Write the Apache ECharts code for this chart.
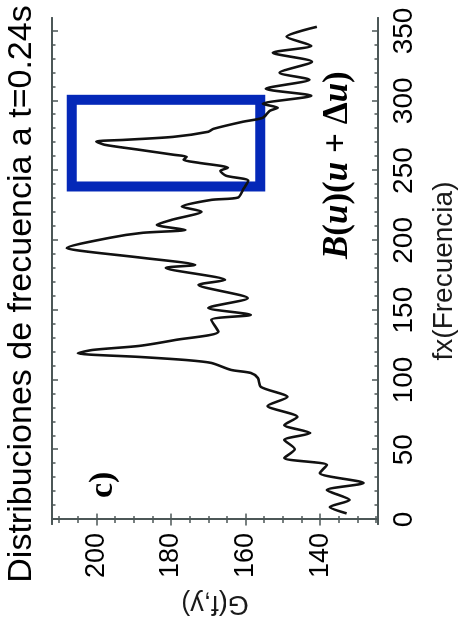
<!DOCTYPE html>
<html>
<head>
<meta charset="utf-8">
<script src="https://cdn.jsdelivr.net/npm/echarts@6/dist/echarts.min.js"></script>
<style>
  html, body { margin: 0; padding: 0; background: #fff; overflow: hidden; }
  /* the whole figure is turned a quarter turn counter-clockwise */
  #chart {
    position: absolute; left: 0; top: 0;
    width: 627px; height: 463px;
    transform-origin: 0 0;
    transform: translate(0, 627px) rotate(-90deg);
  }
</style>
</head>
<body>
<div id="chart"></div>
<script>
// frecuencia (eje x)
const freq = [4.4, 9.0, 14.0, 21.1, 26.2, 33.3, 39.1, 44.1, 50.5, 57.0, 62.0,
  67.7, 73.5, 81.4, 87.8, 95.0, 101.4, 105.0, 107.2, 112.2, 114.3,
  116.5, 119.1, 121.5, 124.4, 128.7, 134.6, 143.0, 146.6, 151.6, 158.6,
  168.1, 171.7, 180.3, 182.4, 187.5, 192.0, 194.4, 201.8, 205.4, 207.5,
  211.1, 214.7, 220.6, 224.2, 229.0, 230.7, 236.2, 242.7, 246.3, 249.8,
  252.0, 255.6, 257.7, 259.9, 261.3, 264.9, 268.5, 270.8, 272.0, 274.2,
  277.8, 279.9, 285.0, 287.8, 292.8, 295.0, 297.8, 303.6, 308.6, 315.1,
  320.1, 328.0, 334.4, 339.4, 345.9, 353.0]
// G(f,y)
const gVal = [132.9, 137.4, 132.1, 138.2, 128.4, 140.1, 138.2, 149.6, 146.8, 149.6, 142.7,
  149.6, 146.1, 154.1, 148.8, 155.9, 156.7, 158.6, 163.9, 169.2, 176.1,
  188.5, 205.0, 201.0, 188.5, 178.7, 167.3, 169.2, 158.6, 170.0, 159.4,
  172.6, 165.5, 181.4, 173.5, 187.7, 202.6, 207.9, 196.5, 187.7, 176.1,
  183.8, 179.8, 171.8, 177.1, 169.2, 162.0, 160.7, 159.3, 165.2, 166.8,
  164.7, 172.6, 176.6, 175.8, 179.2, 188.5, 197.8, 200.0, 192.5, 179.2,
  170.0, 168.6, 160.7, 155.4, 153.5, 151.4, 155.4, 142.4, 154.6, 142.9,
  150.9, 142.2, 152.7, 142.4, 149.0, 140.9]

// ticks
const freqTicks = [0, 50, 100, 150, 200, 250, 300, 350]
const gTicks = [140, 160, 180, 200]
const freqRange = [-3.2, 359.3]
const gRange = [124.5, 211.9]

// recuadro azul
const boxFreq = [238.6, 300.7]
const boxG = [156.1, 206.6]

const freqMinor = []
for (let v = 10; v < 360; v += 10) if (v % 50) freqMinor.push(v)
const gMinor = []
for (let v = 125; v <= 210; v += 5) if (v % 20) gMinor.push(v)

const frame = '#4c5757'
const font = 'Liberation Sans'

// one axis only carrying ticks (and optionally labels)
function axis(kind, pos, ticks, len, extra) {
  const range = kind === 'x' ? freqRange : gRange
  return Object.assign({
    type: 'value', position: pos, min: range[0], max: range[1],
    axisLine: { show: true, lineStyle: { color: frame, width: 2 } },
    axisTick: { show: true, inside: true, length: len, customValues: ticks,
      lineStyle: { color: frame, width: 1.5 } },
    axisLabel: { show: false },
    splitLine: { show: false }
  }, extra || {})
}

const chart = echarts.init(document.getElementById('chart'))
chart.setOption({
  animation: false,
  backgroundColor: '#fff',
  grid: { left: 103, right: 18, top: 52, bottom: 81 },
  xAxis: [
    axis('x', 'bottom', freqTicks, 6, {
      axisLabel: { show: true, customValues: freqTicks, fontSize: 28, color: '#000',
        fontFamily: font, margin: 12 },
      name: 'fx(Frecuencia)', nameLocation: 'middle', nameGap: 52,
      nameTextStyle: { fontSize: 28, color: '#1a1a1a', fontFamily: font }
    }),
    axis('x', 'bottom', freqMinor, 3.5),
    axis('x', 'top', freqTicks, 6),
    axis('x', 'top', freqMinor, 3.5)
  ],
  yAxis: [
    axis('y', 'left', gTicks, 6, {
      axisLabel: { show: true, customValues: gTicks, fontSize: 27, color: '#000',
        fontFamily: font, margin: 9 },
      name: 'G(f,y)', nameLocation: 'middle', nameGap: 66,
      nameTextStyle: { fontSize: 27, color: '#1a1a1a', fontFamily: font }
    }),
    axis('y', 'left', gMinor, 3.5),
    axis('y', 'right', gTicks, 6),
    axis('y', 'right', gMinor, 3.5)
  ],
  series: [{
    type: 'line',
    xAxisIndex: 0, yAxisIndex: 0,
    data: freq.map((f, i) => [f, gVal[i]]),
    showSymbol: false,
    smooth: 0.25,
    lineStyle: { color: '#111', width: 2.6 },
    markArea: {
      silent: true,
      label: { show: false },
      itemStyle: { color: 'rgba(0,0,0,0)', borderColor: '#0428b8', borderWidth: 10 },
      data: [[{ coord: [boxFreq[0], boxG[1]] }, { coord: [boxFreq[1], boxG[0]] }]]
    }
  }],
  graphic: [
    { type: 'text', x: 333, y: 22,
      style: { text: 'Distribuciones de frecuencia a t=0.24s', fill: '#000',
        font: '34px "Liberation Sans"', align: 'center', verticalAlign: 'middle' } },
    { type: 'text', x: 129, y: 103,
      style: { text: 'c)', fill: '#000', font: 'bold 34px "Liberation Serif"',
        verticalAlign: 'middle' } },
    { type: 'text', x: 368, y: 338,
      style: {
        text: '{i|B}{n|(}{i|u}{n|)(}{i|u}{n| + Δ}{i|u}{n|)}',
        verticalAlign: 'middle',
        rich: {
          i: { fontFamily: 'Liberation Serif', fontSize: 35, fontWeight: 'bold', fontStyle: 'italic', fill: '#000' },
          n: { fontFamily: 'Liberation Serif', fontSize: 35, fontWeight: 'bold', fill: '#000' }
        }
      } }
  ]
})
</script>
</body>
</html>
